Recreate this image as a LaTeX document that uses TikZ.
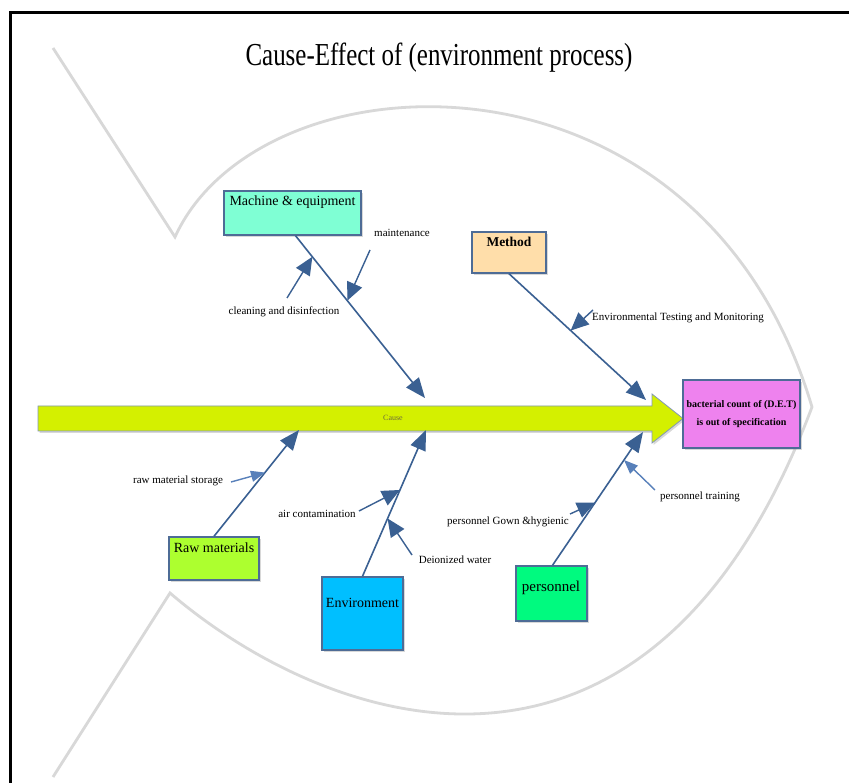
\documentclass[tikz,border=0pt]{standalone}
\usepackage{fontspec}
\setmainfont{Liberation Serif}
\newfontfamily\titlefont[FakeStretch=0.78]{Liberation Serif}
\usetikzlibrary{arrows.meta,shadows}
\definecolor{bonec}{RGB}{58,96,146}
\definecolor{bonelight}{RGB}{88,128,186}
\definecolor{boxedge}{RGB}{78,108,150}
\definecolor{fishc}{RGB}{216,216,216}
\definecolor{arrowy}{RGB}{212,240,0}
\definecolor{aquac}{RGB}{127,255,212}
\definecolor{peachc}{RGB}{255,222,170}
\definecolor{violetc}{RGB}{238,130,238}
\definecolor{limec}{RGB}{173,255,47}
\definecolor{skyc}{RGB}{0,191,255}
\definecolor{springc}{RGB}{0,250,127}
\definecolor{causec}{RGB}{110,110,60}
\begin{document}
\begin{tikzpicture}[x=1pt,y=-1pt,
  fish/.style={draw=fishc,line width=2.8pt},
  bone/.style={draw=bonec,line width=1.6pt,-{Triangle[length=20pt,width=16pt]}},
  subarr/.style={draw=bonec,line width=1.4pt,-{Triangle[length=18pt,width=16pt]}},
  sublight/.style={draw=bonelight,line width=1.4pt,-{Triangle[length=14pt,width=11pt]}},
  catbox/.style={draw=boxedge,line width=1.4pt,inner sep=0,drop shadow={shadow xshift=2pt,shadow yshift=-2pt,opacity=0.3}},
  lbl/.style={inner sep=0,font=\fontsize{11}{13}\selectfont},
  boxtxt/.style={inner sep=0,font=\fontsize{14}{16}\selectfont}]
\useasboundingbox (0,0) rectangle (849,783);
\fill[white] (0,0) rectangle (849,783);
% frame
\draw[line width=3pt] (10,783) -- (10,12.5) -- (849,12.5);
% fish outline
\draw[fish,line join=miter] (53,48) -- (175,237) .. controls (260,50) and (700,30) .. (812,407)
   .. controls (650,838) and (330,730) .. (170,593) -- (53,777);
% title
\node[inner sep=0,font=\titlefont\fontsize{32}{36}\selectfont] (title) at (439,58) {Cause-Effect of (environment process)};
% main arrow
\path[fill=arrowy,draw=boxedge!70,line width=0.8pt,drop shadow={shadow xshift=1.5pt,shadow yshift=-2pt,opacity=0.3}]
  (38,406) -- (652,406) -- (652,394) -- (683,418.5) -- (652,443) -- (652,431) -- (38,431) -- cycle;
\node[inner sep=0,text=causec,font=\fontsize{8}{9}\selectfont] (cause) at (393,418) {Cause};
% effect box
\node[catbox,fill=violetc,minimum width=117pt,minimum height=68pt,align=center,
      font=\bfseries\fontsize{10}{18}\selectfont] (effect) at (741.5,414) {bacterial count of (D.E.T)\\is out of specification};
% category boxes
\node[catbox,fill=aquac,minimum width=137pt,minimum height=44pt] (mach) at (292.5,213) {};
\node[boxtxt] (machtxt) at (292.5,202) {Machine \& equipment};
\node[catbox,fill=peachc,minimum width=74pt,minimum height=41pt] (meth) at (509,252.5) {};
\node[boxtxt,font=\bfseries\fontsize{13.5}{16}\selectfont] (methtxt) at (509,242) {Method};
\node[catbox,fill=limec,minimum width=90pt,minimum height=43pt] (raw) at (214,558.5) {};
\node[boxtxt] (rawtxt) at (214,548) {Raw materials};
\node[catbox,fill=skyc,minimum width=81pt,minimum height=73pt] (env) at (362.5,613.5) {};
\node[boxtxt] (envtxt) at (362.5,603) {Environment};
\node[catbox,fill=springc,minimum width=71pt,minimum height=55pt] (pers) at (551.5,593.5) {};
\node[boxtxt,font=\fontsize{15}{17}\selectfont] (perstxt) at (551,588) {personnel};
% bone tips
\coordinate (mtip) at (425,398);
\coordinate (methtip) at (646,400);
\coordinate (rawtip) at (299,430);
\coordinate (envtip) at (426,430);
\coordinate (perstip) at (643,432);
% bones
\draw[bone] ([xshift=3pt]mach.south) -- (mtip) coordinate[pos=0.13] (m1) coordinate[pos=0.40] (m2);
\draw[bone] (meth.south) -- (methtip) coordinate[pos=0.45] (me1);
\draw[bone] (raw.north) -- (rawtip) coordinate[pos=0.60] (r1);
\draw[bone] (env.north) -- (envtip) coordinate[pos=0.59] (e1) coordinate[pos=0.395] (e2);
\draw[bone] ([xshift=1pt]pers.north) -- (perstip) coordinate[pos=0.47] (p1) coordinate[pos=0.79] (p2);
% labels
\node[lbl] (cleanlbl) at (284,312) {cleaning and disinfection};
\node[lbl] (maintlbl) at (402,233) {maintenance};
\node[lbl] (envtestlbl) at (678,318) {Environmental Testing and Monitoring};
\node[lbl] (rawstlbl) at (178,481) {raw material storage};
\node[lbl] (airlbl) at (317,514) {air contamination};
\node[lbl] (dilbl) at (455,560) {Deionized water};
\node[lbl] (gownlbl) at (508,522) {personnel Gown \&hygienic};
\node[lbl] (trainlbl) at (700,497) {personnel training};
% sub-arrow tails
\coordinate (t1) at (287,298);
\coordinate (t2) at (370,250);
\coordinate (t3) at (593,310);
\coordinate (t4) at (231,482);
\coordinate (t5) at (359,511);
\coordinate (t6) at (412,555);
\coordinate (t7) at (570,514);
\coordinate (t8) at (655,490);
% sub-arrows
\draw[subarr] (t1) -- (m1);
\draw[subarr] (t2) -- (m2);
\draw[subarr] (t3) -- (me1);
\draw[sublight] (t4) -- (r1);
\draw[subarr] (t5) -- (e1);
\draw[subarr] (t6) -- (e2);
\draw[subarr] (t7) -- (p1);
\draw[sublight] (t8) -- (p2);
\end{tikzpicture}
\end{document}
